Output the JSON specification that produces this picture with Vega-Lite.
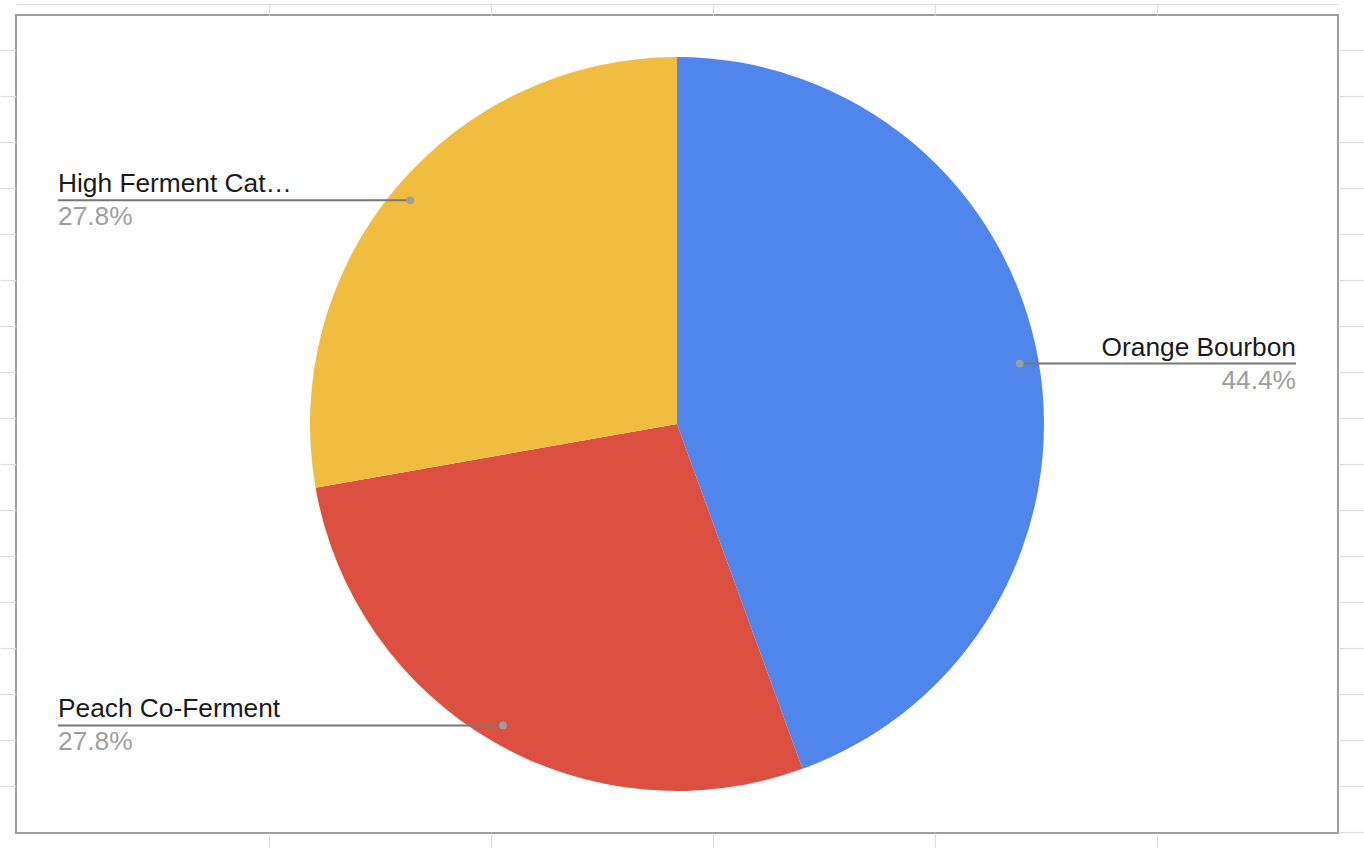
{
  "$schema": "https://vega.github.io/schema/vega-lite/v6.json",
  "width": 1322,
  "height": 818,
  "autosize": {"type": "none"},
  "padding": {"left": 16, "top": 15, "right": 26, "bottom": 15},
  "background": "white",
  "config": {
    "view": {"stroke": "#9e9e9e", "strokeWidth": 2, "fill": "white"},
    "font": "Liberation Sans"
  },
  "data": {
    "values": [
      {"name": "Orange Bourbon", "count": 8},
      {"name": "Peach Co-Ferment", "count": 5},
      {"name": "High Ferment Cat…", "count": 5}
    ]
  },
  "transform": [
    {"window": [{"op": "row_number", "as": "idx"}]},
    {"joinaggregate": [{"op": "sum", "field": "count", "as": "total"}]},
    {"window": [{"op": "sum", "field": "count", "as": "cum"}], "sort": [{"field": "idx"}], "frame": [null, 0]},
    {"calculate": "(datum.cum - datum.count / 2) / datum.total * 2 * PI", "as": "mid"},
    {"calculate": "348 * sin(datum.mid)", "as": "px"},
    {"calculate": "348 * cos(datum.mid)", "as": "py"},
    {"calculate": "datum.px > 0 ? 1 : -1", "as": "side"},
    {"calculate": "datum.side * 619", "as": "lx"},
    {"calculate": "datum.count / datum.total", "as": "pct"}
  ],
  "resolve": {"axis": {"x": "independent", "y": "independent"}},
  "layer": [
    {
      "mark": {"type": "arc", "outerRadius": 367},
      "encoding": {
        "theta": {"field": "count", "type": "quantitative", "stack": true},
        "order": {"field": "idx", "type": "quantitative"},
        "color": {
          "field": "name",
          "type": "nominal",
          "scale": {
            "domain": ["Orange Bourbon", "Peach Co-Ferment", "High Ferment Cat…"],
            "range": ["#5086ec", "#db5040", "#f0bd41"]
          },
          "legend": null
        }
      }
    },
    {
      "mark": {"type": "rule", "color": "#777777", "strokeWidth": 2},
      "encoding": {
        "x": {
          "field": "px",
          "type": "quantitative",
          "scale": {"domain": [-661, 661], "nice": false, "zero": false},
          "axis": {
            "orient": "bottom",
            "values": [-408, -186, 36, 258, 480],
            "labels": false,
            "domain": false,
            "grid": false,
            "title": null,
            "tickSize": 15,
            "tickColor": "#dddddd",
            "tickWidth": 1.2
          }
        },
        "x2": {"field": "lx"},
        "y": {
          "field": "py",
          "type": "quantitative",
          "scale": {"domain": [-409, 409], "nice": false, "zero": false},
          "axis": {
            "orient": "left",
            "values": [420, 374, 328, 282, 236, 190, 144, 98, 52, 6, -40, -86, -132, -178, -224, -270, -316, -362],
            "labels": false,
            "domain": false,
            "grid": false,
            "title": null,
            "tickSize": 16,
            "tickColor": "#dddddd",
            "tickWidth": 1.2
          }
        }
      }
    },
    {
      "mark": {"type": "point", "filled": true, "size": 60, "color": "#9e9e9e", "opacity": 1},
      "encoding": {
        "x": {
          "field": "px",
          "type": "quantitative",
          "scale": {"domain": [-661, 661], "nice": false, "zero": false},
          "axis": {
            "orient": "top",
            "offset": 11,
            "values": [-408, -186, 36, 258, 480],
            "labels": false,
            "domain": true,
            "domainColor": "#dddddd",
            "domainWidth": 1.2,
            "grid": false,
            "title": null,
            "tickSize": -11,
            "tickColor": "#dddddd",
            "tickWidth": 1.2
          }
        },
        "y": {
          "field": "py",
          "type": "quantitative",
          "scale": {"domain": [-409, 409], "nice": false, "zero": false},
          "axis": {
            "orient": "right",
            "values": [420, 374, 328, 282, 236, 190, 144, 98, 52, 6, -40, -86, -132, -178, -224, -270, -316, -362, -408],
            "labels": false,
            "domain": false,
            "grid": false,
            "title": null,
            "tickSize": 26,
            "tickColor": "#dddddd",
            "tickWidth": 1.2
          }
        }
      }
    },
    {
      "transform": [{"filter": "datum.side > 0"}],
      "mark": {"type": "text", "align": "right", "baseline": "alphabetic", "dy": -8, "fontSize": 26.3, "color": "#1a1a1a"},
      "encoding": {
        "x": {"field": "lx", "type": "quantitative", "scale": {"domain": [-661, 661], "nice": false, "zero": false}, "axis": null},
        "y": {"field": "py", "type": "quantitative", "scale": {"domain": [-409, 409], "nice": false, "zero": false}, "axis": null},
        "text": {"field": "name"}
      }
    },
    {
      "transform": [{"filter": "datum.side < 0"}],
      "mark": {"type": "text", "align": "left", "baseline": "alphabetic", "dy": -8, "fontSize": 26.3, "color": "#1a1a1a"},
      "encoding": {
        "x": {"field": "lx", "type": "quantitative", "scale": {"domain": [-661, 661], "nice": false, "zero": false}, "axis": null},
        "y": {"field": "py", "type": "quantitative", "scale": {"domain": [-409, 409], "nice": false, "zero": false}, "axis": null},
        "text": {"field": "name"}
      }
    },
    {
      "transform": [{"filter": "datum.side > 0"}],
      "mark": {"type": "text", "align": "right", "baseline": "alphabetic", "dy": 25, "fontSize": 26.3, "color": "#9e9e9e"},
      "encoding": {
        "x": {"field": "lx", "type": "quantitative", "scale": {"domain": [-661, 661], "nice": false, "zero": false}, "axis": null},
        "y": {"field": "py", "type": "quantitative", "scale": {"domain": [-409, 409], "nice": false, "zero": false}, "axis": null},
        "text": {"field": "pct", "format": ".1%"}
      }
    },
    {
      "transform": [{"filter": "datum.side < 0"}],
      "mark": {"type": "text", "align": "left", "baseline": "alphabetic", "dy": 25, "fontSize": 26.3, "color": "#9e9e9e"},
      "encoding": {
        "x": {"field": "lx", "type": "quantitative", "scale": {"domain": [-661, 661], "nice": false, "zero": false}, "axis": null},
        "y": {"field": "py", "type": "quantitative", "scale": {"domain": [-409, 409], "nice": false, "zero": false}, "axis": null},
        "text": {"field": "pct", "format": ".1%"}
      }
    }
  ]
}
